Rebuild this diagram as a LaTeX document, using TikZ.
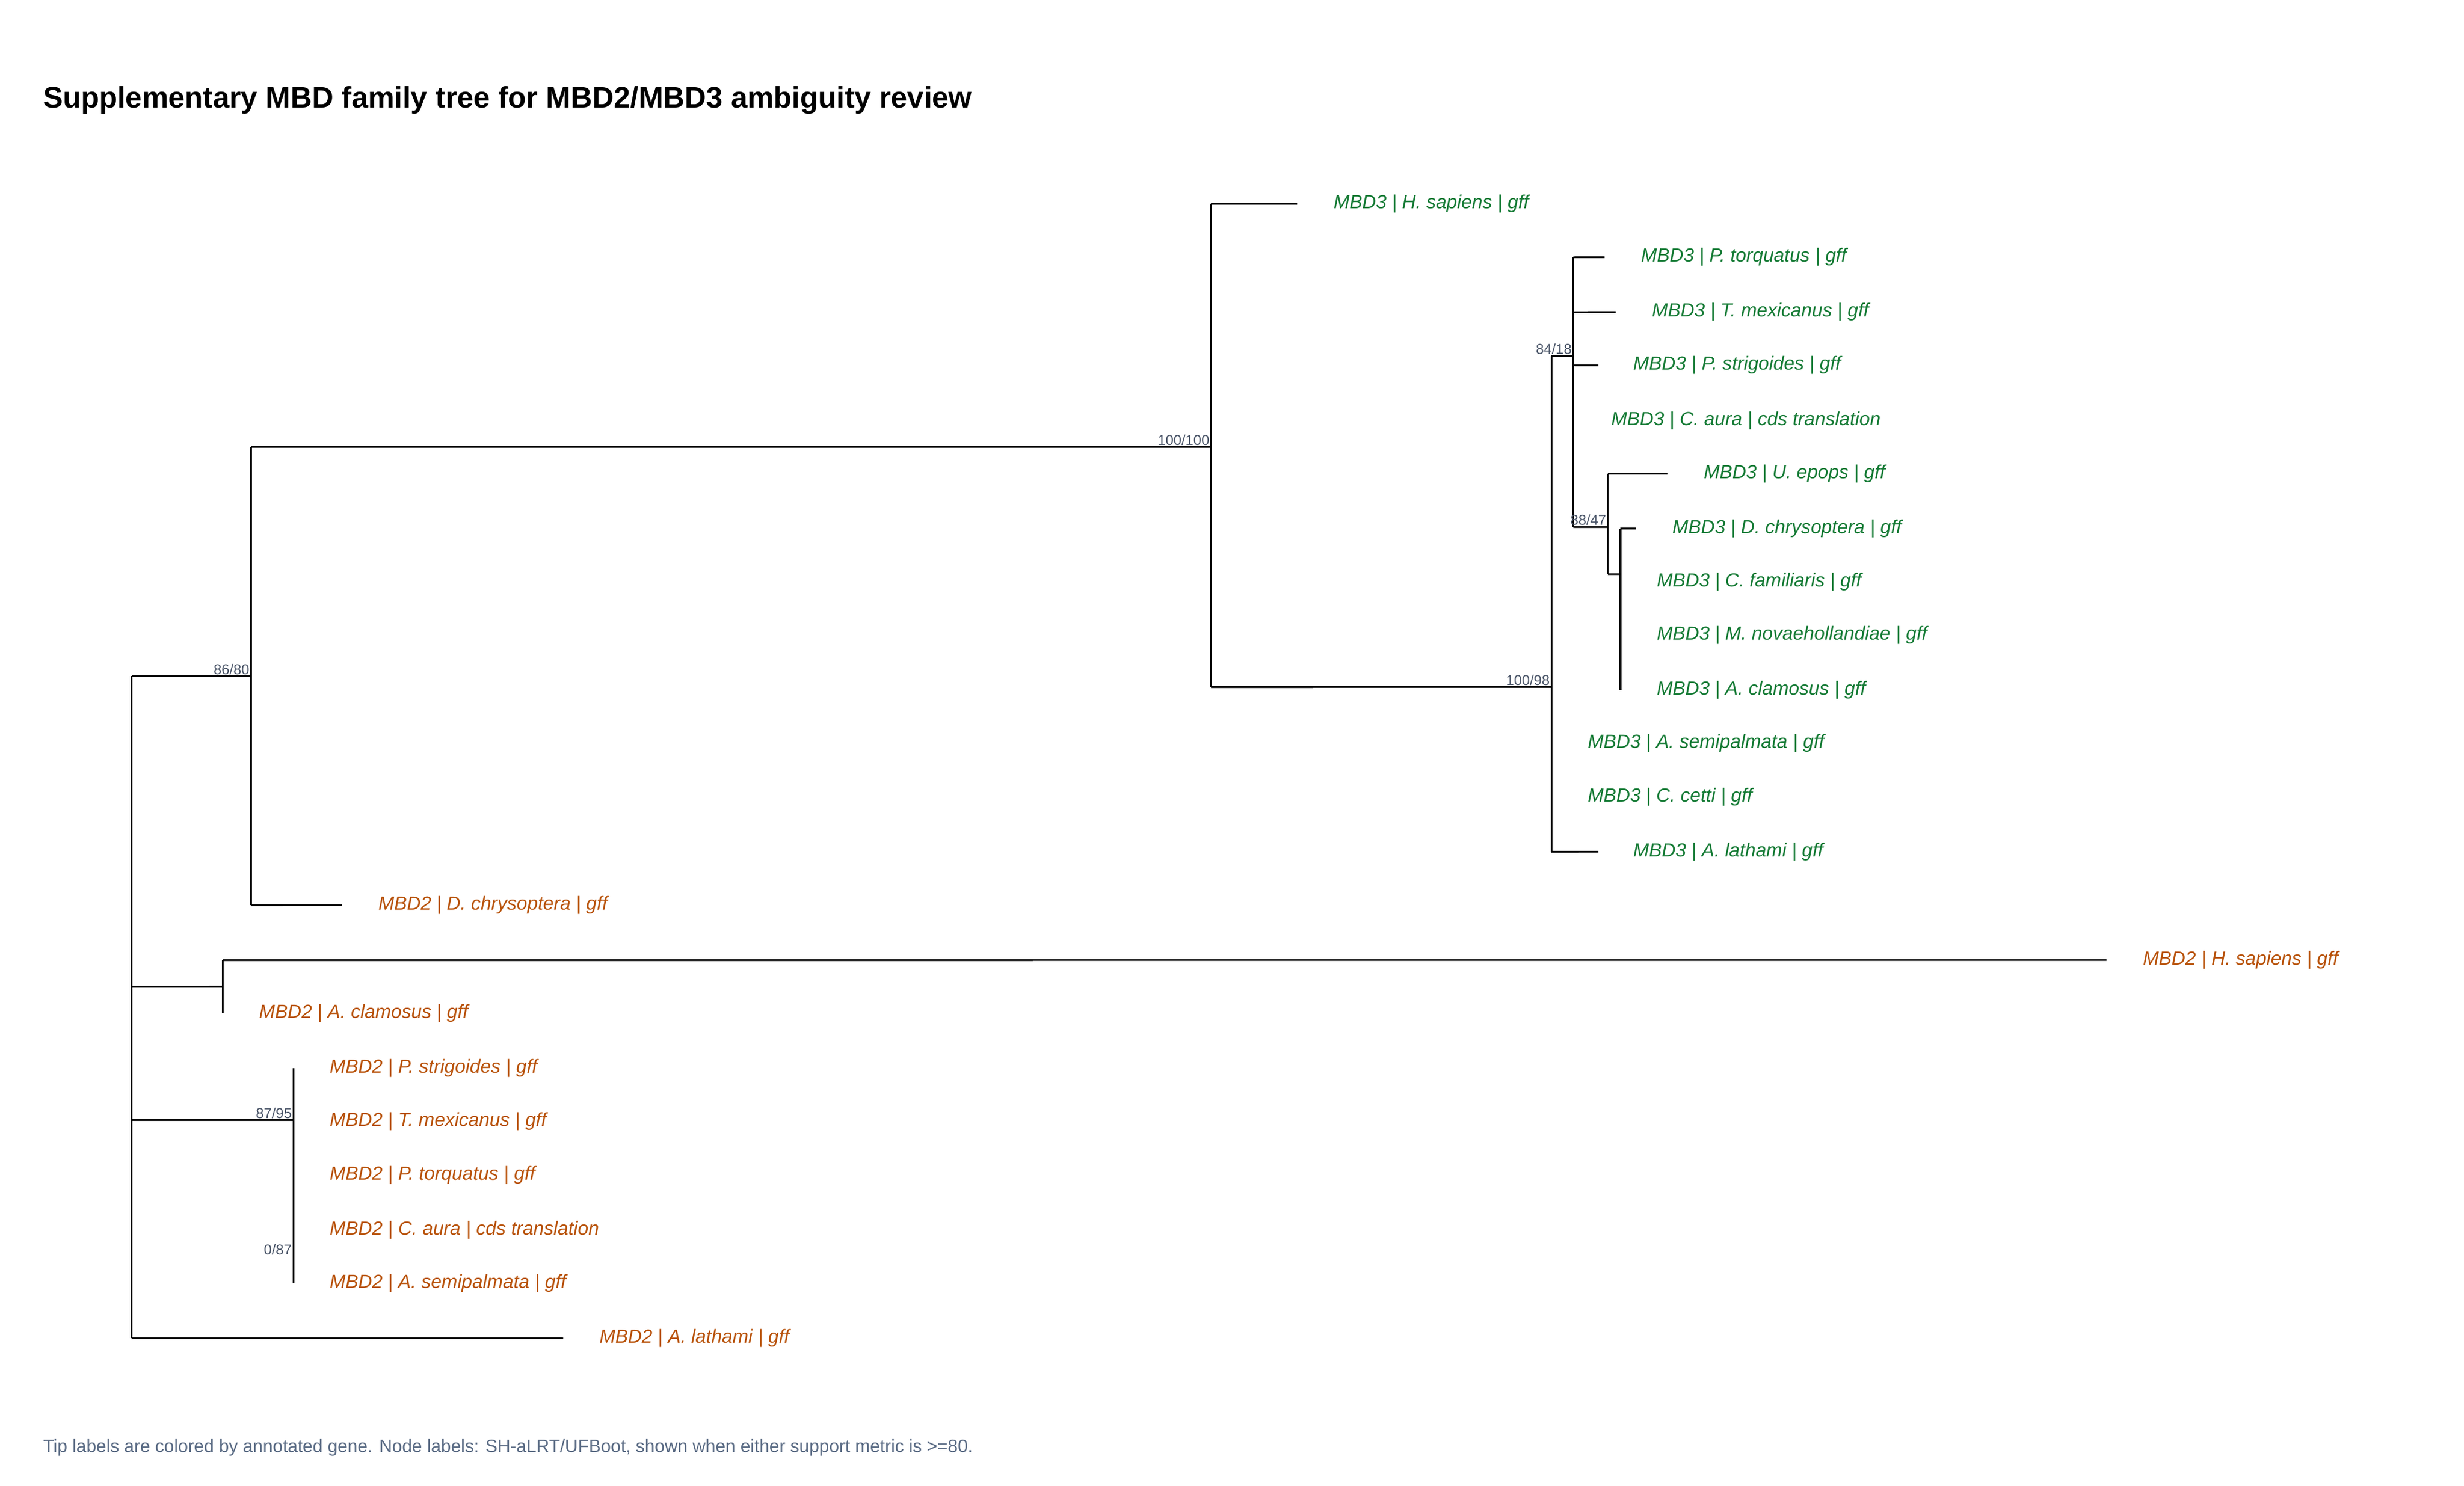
\documentclass[tikz,border=0pt]{standalone}
\usepackage{fontspec}
\setmainfont{Liberation Sans}
\definecolor{mgreen}{RGB}{20,122,52}
\definecolor{morange}{RGB}{184,82,10}
\definecolor{nodegray}{RGB}{74,85,104}
\definecolor{capgray}{RGB}{90,107,132}
\begin{document}
\begin{tikzpicture}[x=1pt,y=-1pt,
  br/.style={line width=1.1pt,black},
  g/.style={anchor=west,inner sep=0,text=mgreen,font=\fontsize{12}{14}\selectfont\itshape},
  o/.style={anchor=west,inner sep=0,text=morange,font=\fontsize{12}{14}\selectfont\itshape},
  sup/.style={anchor=south east,inner sep=0.8,text=nodegray,font=\fontsize{9}{10}\selectfont}]
\useasboundingbox (0,0) rectangle (1552,936);
\node[anchor=base west,inner sep=0,font=\fontsize{18.7}{21}\selectfont\bfseries] (title) at (27,68) {Supplementary MBD family tree for MBD2/MBD3 ambiguity review};
\node[anchor=base west,inner sep=0,text=capgray,font=\fontsize{11.3}{13}\selectfont] (cap) at (27,915) {Tip labels are colored by annotated gene. Node labels: SH-aLRT/UFBoot, shown when either support metric is >=80.};
\begin{scope}[xshift=1pt,yshift=-0.9pt,xscale=0.988,yscale=0.9884]
% internal nodes
\coordinate (r) at (83,430);
\coordinate (A) at (159,430);
\coordinate (B) at (771,284);
\coordinate (C) at (988,437);
\coordinate (D) at (1002,226);
\coordinate (E) at (1024,335);
\coordinate (F) at (1032,365);
\coordinate (G) at (141,628);
\coordinate (H) at (186,713);
% tips ends
\coordinate (t1) at (826,129);
\coordinate (t2) at (1022,163);
\coordinate (t3) at (1029,198);
\coordinate (t4) at (1018,232);
\coordinate (t5) at (1062,301);
\coordinate (t6) at (1042,336);
\coordinate (t7) at (1018,542);
\coordinate (t8) at (217,576);
\coordinate (t9) at (1342,611);
\coordinate (t10) at (358,852);
% branches
\draw[br] (83,430) -- (83,852);
\draw[br] (159,284) -- (159,576);
\draw[br] (r) -- (A);
\draw[br] (159,284) -- (B);
\draw[br] (771,129) -- (771,437);
\draw[br] (771,129) -- (t1);
\draw[br] (771,437) -- (C);
\draw[br] (988,226) -- (988,542);
\draw[br] (988,226) -- (D);
\draw[br] (988,542) -- (t7);
\draw[br] (1002,163) -- (1002,335);
\draw[br] (1002,163) -- (t2);
\draw[br] (1002,198) -- (t3);
\draw[br] (1002,232) -- (t4);
\draw[br] (1002,335) -- (E);
\draw[br] (1024,301) -- (1024,365);
\draw[br] (1024,301) -- (t5);
\draw[br] (1024,365) -- (F);
\draw[br] (1032,336) -- (1032,439);
\draw[br] (1032,336) -- (t6);
\draw[br] (159,576) -- (t8);
\draw[br] (83,628) -- (G);
\draw[br] (141,611) -- (141,645);
\draw[br] (141,611) -- (t9);
\draw[br] (83,713) -- (H);
\draw[br] (186,680) -- (186,817);
\draw[br] (83,852) -- (t10);
% support labels
\node[sup] (sA) at (159,430) {86/80};
\node[sup] (sB) at (771,284) {100/100};
\node[sup] (sC) at (988,437) {100/98};
\node[sup] (sD) at (1002,226) {84/18};
\node[sup] (sE) at (1024,335) {88/47};
\node[sup] (sH) at (186,713) {87/95};
\node[sup] (sI) at (186,800) {0/87};
% tip labels
\node[g] (l1) at (849,129) {MBD3 | H. sapiens | gff};
\node[g] (l2) at (1045,163) {MBD3 | P. torquatus | gff};
\node[g] (l3) at (1052,198) {MBD3 | T. mexicanus | gff};
\node[g] (l4) at (1040,232) {MBD3 | P. strigoides | gff};
\node[g] (l5) at (1026,267) {MBD3 | C. aura | cds translation};
\node[g] (l6) at (1085,301) {MBD3 | U. epops | gff};
\node[g] (l7) at (1065,336) {MBD3 | D. chrysoptera | gff};
\node[g] (l8) at (1055,370) {MBD3 | C. familiaris | gff};
\node[g] (l9) at (1055,404) {MBD3 | M. novaehollandiae | gff};
\node[g] (l10) at (1055,439) {MBD3 | A. clamosus | gff};
\node[g] (l11) at (1011,473) {MBD3 | A. semipalmata | gff};
\node[g] (l12) at (1011,507) {MBD3 | C. cetti | gff};
\node[g] (l13) at (1040,542) {MBD3 | A. lathami | gff};
\node[o] (m1) at (240,576) {MBD2 | D. chrysoptera | gff};
\node[o] (m2) at (1365,611) {MBD2 | H. sapiens | gff};
\node[o] (m3) at (164,645) {MBD2 | A. clamosus | gff};
\node[o] (m4) at (209,680) {MBD2 | P. strigoides | gff};
\node[o] (m5) at (209,714) {MBD2 | T. mexicanus | gff};
\node[o] (m6) at (209,748) {MBD2 | P. torquatus | gff};
\node[o] (m7) at (209,783) {MBD2 | C. aura | cds translation};
\node[o] (m8) at (209,817) {MBD2 | A. semipalmata | gff};
\node[o] (m9) at (381,852) {MBD2 | A. lathami | gff};
\end{scope}
\end{tikzpicture}
\end{document}
